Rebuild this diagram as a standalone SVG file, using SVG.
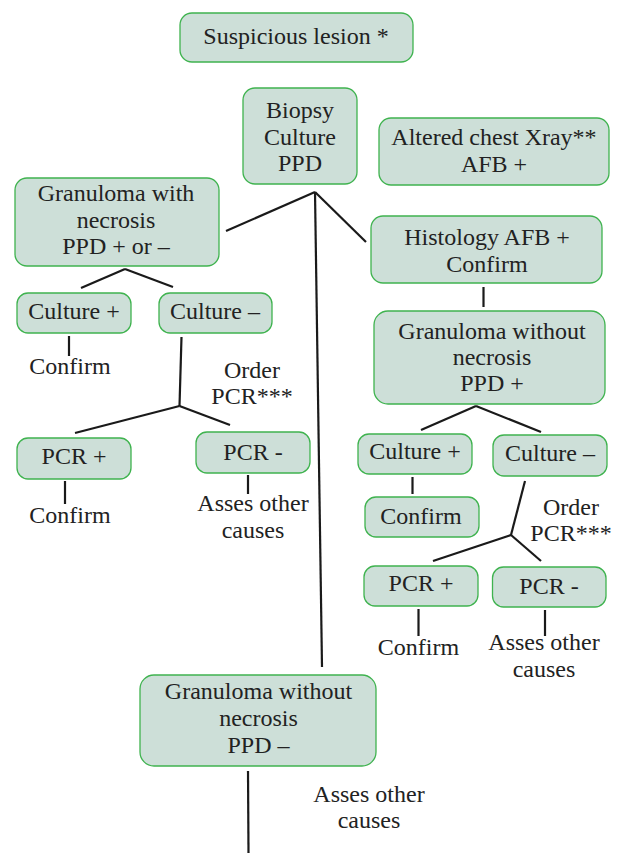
<svg xmlns="http://www.w3.org/2000/svg" width="617" height="853" viewBox="0 0 617 853">
<style>
.box{fill:#cddfd8;stroke:#3fb34f;stroke-width:1.3}
text{font-family:"Liberation Serif","Times New Roman",serif;font-size:24px;fill:#222;text-anchor:middle}
.c line{stroke:#1a1a1a;stroke-width:2.2;stroke-linecap:butt}
</style>
<rect width="617" height="853" fill="#fff"/>
<g class="c" id="connectors">
<line x1="315" y1="192" x2="226" y2="231"/>
<line x1="315" y1="192" x2="366" y2="242"/>
<line x1="315" y1="192" x2="322" y2="667"/>
<line x1="125" y1="269" x2="81" y2="288"/>
<line x1="125" y1="269" x2="173" y2="287"/>
<line x1="69" y1="336" x2="69" y2="356"/>
<line x1="181.5" y1="337" x2="179.5" y2="406"/>
<line x1="179.5" y1="406" x2="75" y2="433"/>
<line x1="179.5" y1="406" x2="230" y2="425"/>
<line x1="65" y1="481" x2="65" y2="504"/>
<line x1="248" y1="475" x2="248" y2="494"/>
<line x1="483.5" y1="287" x2="483.5" y2="307"/>
<line x1="476" y1="406" x2="421" y2="430"/>
<line x1="476" y1="406" x2="541" y2="432"/>
<line x1="412.5" y1="477" x2="412.5" y2="494"/>
<line x1="525" y1="481" x2="511" y2="535"/>
<line x1="511" y1="535" x2="433" y2="561"/>
<line x1="511" y1="535" x2="541" y2="561"/>
<line x1="418.5" y1="609" x2="418.5" y2="636"/>
<line x1="545" y1="610" x2="545" y2="636"/>
<line x1="248" y1="771" x2="248.5" y2="853"/>
</g>
<g id="suspicious"><rect class="box" x="180" y="13" width="233" height="49" rx="12"/><text x="296" y="44">Suspicious lesion *</text></g>
<g id="biopsy"><rect class="box" x="243" y="88" width="114" height="96" rx="12"/><text x="300" y="118">Biopsy</text><text x="300" y="145">Culture</text><text x="300" y="171">PPD</text></g>
<g id="xray"><rect class="box" x="379" y="118" width="230" height="67" rx="12"/><text x="494" y="145">Altered chest Xray**</text><text x="494" y="172">AFB +</text></g>
<g id="gran-nec"><rect class="box" x="15" y="178" width="204" height="88" rx="12"/><text x="116" y="201">Granuloma with</text><text x="116" y="228">necrosis</text><text x="116" y="254">PPD + or –</text></g>
<g id="histology"><rect class="box" x="371" y="216" width="231" height="67" rx="12"/><text x="487" y="245">Histology AFB +</text><text x="487" y="272">Confirm</text></g>
<g id="culture-pos-l"><rect class="box" x="17" y="293" width="114" height="40" rx="11"/><text x="74" y="319">Culture +</text></g>
<g id="culture-neg-l"><rect class="box" x="159" y="293" width="113" height="40" rx="11"/><text x="215" y="319">Culture –</text></g>
<g id="confirm-l1"><text x="70" y="374">Confirm</text></g>
<g id="order-l"><text x="252" y="378">Order</text><text x="252" y="404">PCR***</text></g>
<g id="pcr-pos-l"><rect class="box" x="17" y="438" width="114" height="41" rx="11"/><text x="74" y="464">PCR +</text></g>
<g id="pcr-neg-l"><rect class="box" x="196" y="432" width="114" height="41" rx="11"/><text x="253" y="460">PCR -</text></g>
<g id="confirm-l2"><text x="70" y="523">Confirm</text></g>
<g id="asses-l"><text x="253" y="511">Asses other</text><text x="253" y="538">causes</text></g>
<g id="gran-nonec-pos"><rect class="box" x="374" y="311" width="231" height="93" rx="14"/><text x="492" y="339">Granuloma without</text><text x="492" y="365">necrosis</text><text x="492" y="391">PPD +</text></g>
<g id="culture-pos-r"><rect class="box" x="358" y="434" width="114" height="40" rx="11"/><text x="415" y="459">Culture +</text></g>
<g id="culture-neg-r"><rect class="box" x="493" y="435" width="114" height="41" rx="11"/><text x="550" y="461">Culture –</text></g>
<g id="confirm-box-r"><rect class="box" x="365" y="497" width="114" height="40" rx="11"/><text x="421" y="524">Confirm</text></g>
<g id="order-r"><text x="571" y="515">Order</text><text x="571" y="541">PCR***</text></g>
<g id="pcr-pos-r"><rect class="box" x="364" y="566" width="114" height="40" rx="11"/><text x="421" y="591">PCR +</text></g>
<g id="pcr-neg-r"><rect class="box" x="492.5" y="567" width="113.5" height="40" rx="11"/><text x="549" y="594">PCR -</text></g>
<g id="confirm-r2"><text x="418.5" y="655">Confirm</text></g>
<g id="asses-r"><text x="544" y="650">Asses other</text><text x="544" y="677">causes</text></g>
<g id="gran-nonec-neg"><rect class="box" x="140" y="675" width="236" height="91" rx="14"/><text x="258.5" y="699">Granuloma without</text><text x="258.5" y="726">necrosis</text><text x="258.5" y="753">PPD –</text></g>
<g id="asses-b"><text x="369" y="802">Asses other</text><text x="369" y="828">causes</text></g>
</svg>
